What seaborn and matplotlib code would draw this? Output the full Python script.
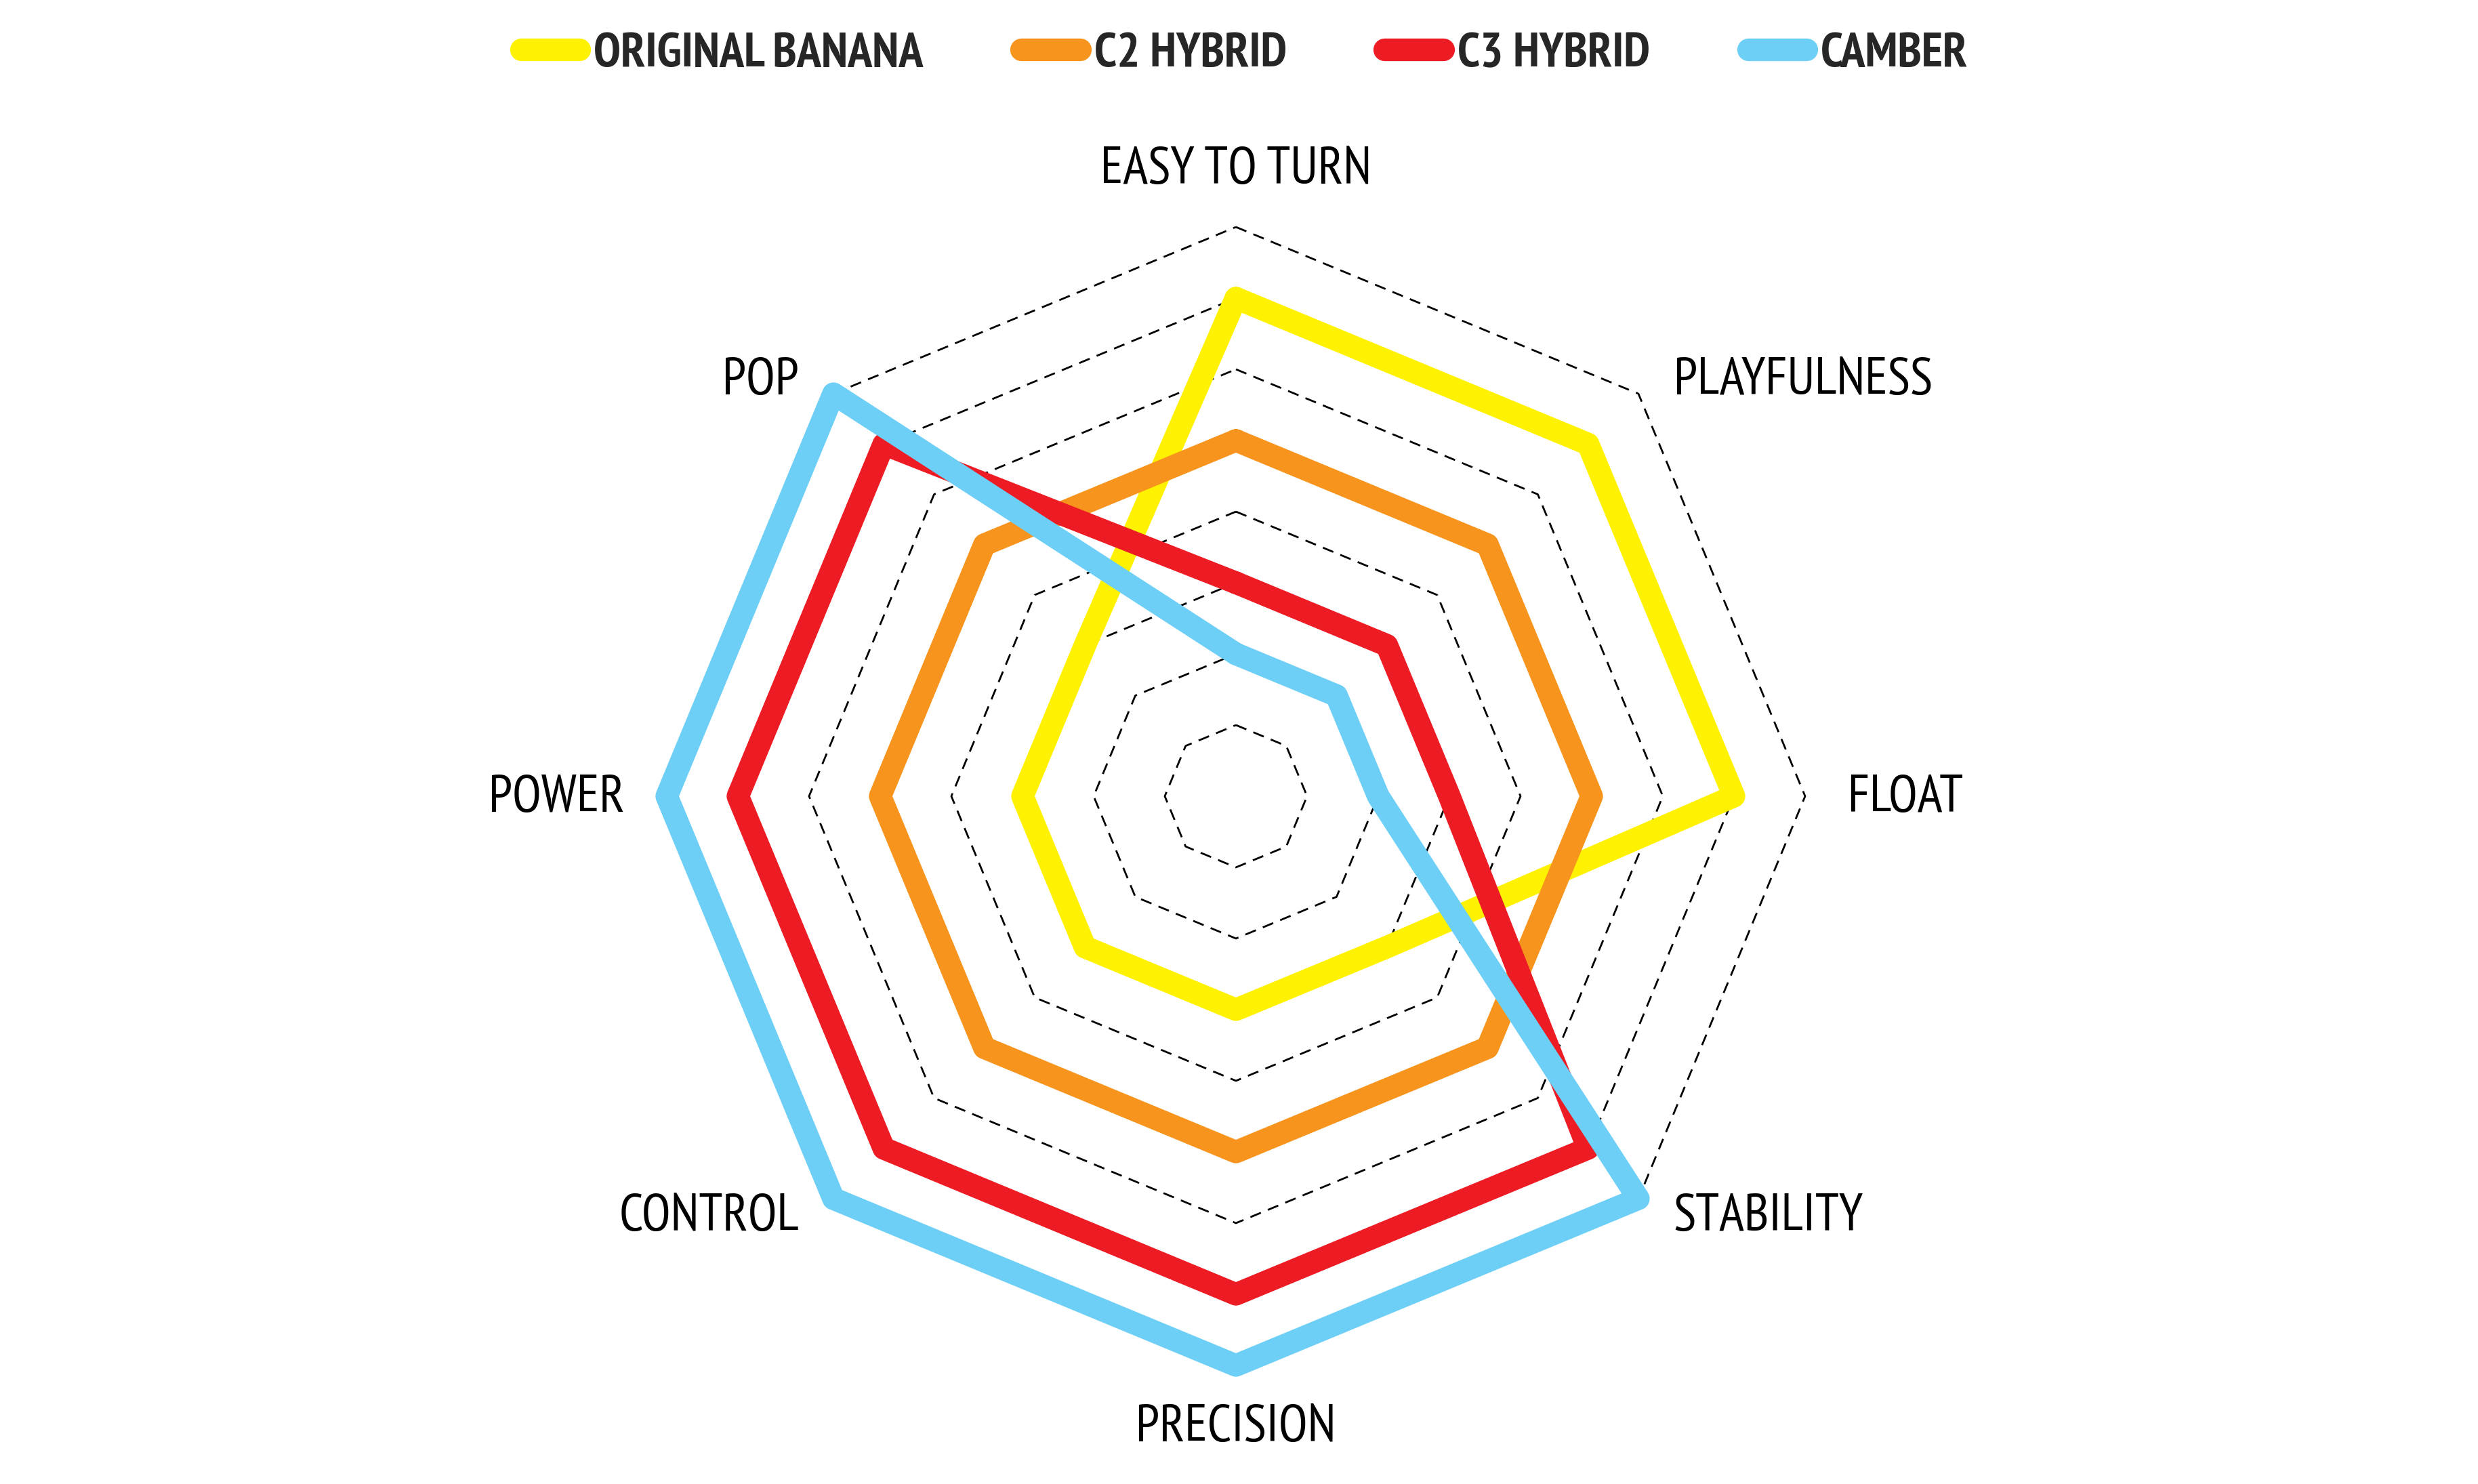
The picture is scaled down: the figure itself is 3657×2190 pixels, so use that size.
import numpy as np
import pandas as pd
import matplotlib
matplotlib.use("Agg")
import matplotlib.pyplot as plt
import seaborn as sns
from matplotlib.lines import Line2D

# ---------------- data ----------------
categories = ["EASY TO TURN", "PLAYFULNESS", "FLOAT", "STABILITY",
              "PRECISION", "CONTROL", "POWER", "POP"]
series_names = ["ORIGINAL BANANA", "C2 HYBRID", "C3 HYBRID", "CAMBER"]
original_banana = [7, 7, 7, 3, 3, 3, 3, 3]
c2_hybrid = [5, 5, 5, 5, 5, 5, 5, 5]
c3_hybrid = [3, 3, 3, 7, 7, 7, 7, 7]
camber = [2, 2, 2, 8, 8, 8, 8, 8]
grid_levels = [1, 2, 3, 4, 5, 6, 7, 8]
colors = ["#FFF200", "#F7941D", "#ED1C24", "#6DCFF6"]

sns.set_theme(style="white")
FONT = ["PT Sans Narrow", "Fira Sans Extra Condensed", "Liberation Sans Narrow",
        "Liberation Sans", "DejaVu Sans"]
plt.rcParams["font.family"] = FONT

DPI = 200
fig = plt.figure(figsize=(3657 / DPI, 2190 / DPI), dpi=DPI)
ax = fig.add_axes([0.26907, 0.07991, 0.45939, 0.76712], projection="polar")
ax.set_theta_offset(np.pi / 2)
ax.set_theta_direction(-1)

theta = np.linspace(0, 2 * np.pi, len(categories), endpoint=False)
theta_closed = np.r_[theta, 2 * np.pi]

# dashed octagonal grid
for lvl in grid_levels:
    ax.plot(theta_closed, [lvl] * len(theta_closed), color="black",
            lw=1.0, ls=(0, (6, 4)), zorder=1, clip_on=False)

all_vals = [original_banana, c2_hybrid, c3_hybrid, camber]
LW = 12
for i, (name, vals, col) in enumerate(zip(series_names, all_vals, colors)):
    df = pd.DataFrame({"theta": theta_closed, "value": list(vals) + [vals[0]]})
    sns.lineplot(data=df, x="theta", y="value", sort=False, estimator=None,
                 ax=ax, color=col, linewidth=LW, solid_joinstyle="round",
                 solid_capstyle="round", clip_on=False, zorder=3 + i)

ax.set_ylim(0, max(grid_levels))
ax.set_xticks([])
ax.set_yticks([])
ax.grid(False)
ax.spines["polar"].set_visible(False)
ax.set_xlabel("")
ax.set_ylabel("")
ax.patch.set_alpha(0)

# category labels (offsets in points from the outer grid vertex)
label_offsets = [(0, 23.0, "center"), (18.7, -0.4, "left"), (22.7, -8.3, "left"),
                 (18.4, -16.9, "left"), (0, -40.3, "center"), (-18.4, -16.9, "right"),
                 (-22.3, -8.3, "right"), (-18.4, -0.4, "right")]
rmax = max(grid_levels)
for t, lab, (dx, dy, ha) in zip(theta, categories, label_offsets):
    ax.annotate(lab, xy=(t, rmax), xytext=(dx, dy), textcoords="offset points",
                ha=ha, va="baseline", fontsize=28, color="black",
                annotation_clip=False, family=FONT)

# legend
handles = [Line2D([0], [0], color=c, lw=LW, solid_capstyle="round") for c in colors]
leg = fig.legend(handles, series_names, loc="center", bbox_to_anchor=(0.5022, 0.9635),
                 ncol=4, frameon=False, handlelength=1.2, handletextpad=0.29,
                 columnspacing=2.0, prop={"family": FONT, "weight": "bold", "size": 26})

fig.savefig("out.png", dpi=DPI, facecolor="white")
